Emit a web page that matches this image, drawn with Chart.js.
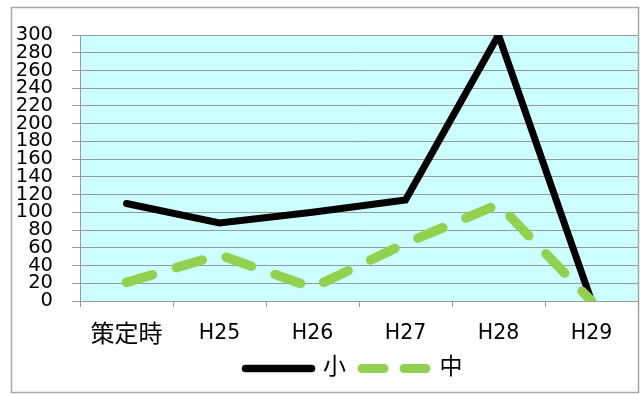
<!DOCTYPE html>
<html>
<head>
<meta charset="utf-8">
<script src="https://cdn.jsdelivr.net/npm/chart.js@4"></script>
<style>
  html, body { margin: 0; padding: 0; background: #fff; }
</style>
</head>
<body>
<canvas id="chart" width="643" height="395"></canvas>
<script>
// data
const categories = ["策定時", "H25", "H26", "H27", "H28", "H29"];
const seriesNames = ["小", "中"];
const smallValues = [110, 88, 100, 114, 300, 0];
const midValues = [21, 52, 15, 65, 109, 0];
const yTicks = [0, 20, 40, 60, 80, 100, 120, 140, 160, 180, 200, 220, 240, 260, 280, 300];

const FONT = 'DejaVu Sans, "Noto Sans CJK JP", sans-serif';
const GRID = "#999999";

// white background, cyan plot area and the grey frame round everything
const frame = {
  id: "frame",
  beforeDraw(chart) {
    const { ctx, chartArea: a } = chart;
    ctx.save();
    ctx.fillStyle = "#ffffff";
    ctx.fillRect(0, 0, chart.width, chart.height);
    ctx.fillStyle = "#ccffff";
    ctx.fillRect(a.left, a.top, a.right - a.left, a.bottom - a.top);
    ctx.strokeStyle = "#a6a6a6";
    ctx.lineWidth = 1.5;
    ctx.strokeRect(11.5, 7.5, 627, 385);
    ctx.restore();
  },
  afterLayout(chart) {
    // legend sits a bit right of centre and a little higher in the original
    const lg = chart.legend;
    lg.left += 35;
    lg.right += 35;
    lg.top -= 8;
    lg.bottom -= 8;
  },
};

const legendDash = [[], [22, 20]];

new Chart(document.getElementById("chart").getContext("2d"), {
  type: "line",
  data: {
    labels: categories,
    datasets: [
      {
        label: seriesNames[0],
        data: smallValues,
        borderColor: "#000000",
        backgroundColor: "#000000",
        borderWidth: 7,
        borderCapStyle: "round",
        pointRadius: 0,
        tension: 0,
        order: 1,
      },
      {
        label: seriesNames[1],
        data: midValues,
        borderColor: "#92d050",
        backgroundColor: "#92d050",
        borderWidth: 9.5,
        borderDash: [27, 25],
        borderCapStyle: "round",
        pointRadius: 0,
        tension: 0,
        order: 0, // green is drawn over the black line
      },
    ],
  },
  options: {
    responsive: false,
    devicePixelRatio: 1,
    animation: false,
    layout: { padding: { top: 35, right: 5, bottom: -3, left: 0 } },
    plugins: {
      tooltip: { enabled: false },
      legend: {
        position: "bottom",
        labels: {
          usePointStyle: true,
          pointStyle: "line",
          pointStyleWidth: 66,
          padding: 16,
          color: "#000000",
          font: { family: FONT, size: 23 },
          generateLabels(chart) {
            return chart.data.datasets.map((d, i) => ({
              text: d.label,
              datasetIndex: i,
              fillStyle: d.borderColor,
              strokeStyle: d.borderColor,
              fontColor: "#000000",
              lineWidth: i === 0 ? 7.5 : 9,
              lineCap: "round",
              lineDash: legendDash[i],
              pointStyle: "line",
              hidden: false,
            }));
          },
        },
      },
    },
    scales: {
      x: {
        offset: true,
        afterFit: (s) => { s.height = 48; },
        grid: {
          offset: true,
          drawOnChartArea: false,
          drawTicks: true,
          tickLength: 6,
          color: GRID,
        },
        border: { display: true, color: GRID, width: 1 },
        ticks: {
          color: "#000000",
          padding: 14,
          autoSkip: false,
          maxRotation: 0,
          font: (c) => ({ family: FONT, size: c.index === 0 ? 24 : 20.5 }),
        },
      },
      y: {
        min: 0,
        max: 300,
        afterFit: (s) => { s.width = 80; },
        afterBuildTicks: (s) => { s.ticks = yTicks.map((v) => ({ value: v })); },
        grid: {
          color: GRID,
          lineWidth: 1,
          drawTicks: true,
          tickLength: 8,
        },
        border: { display: true, color: GRID, width: 1 },
        ticks: {
          color: "#000000",
          padding: 19,
          autoSkip: false,
          font: { family: FONT, size: 19.5, lineHeight: 0.9 },
        },
      },
    },
  },
  plugins: [frame],
});
</script>
</body>
</html>
